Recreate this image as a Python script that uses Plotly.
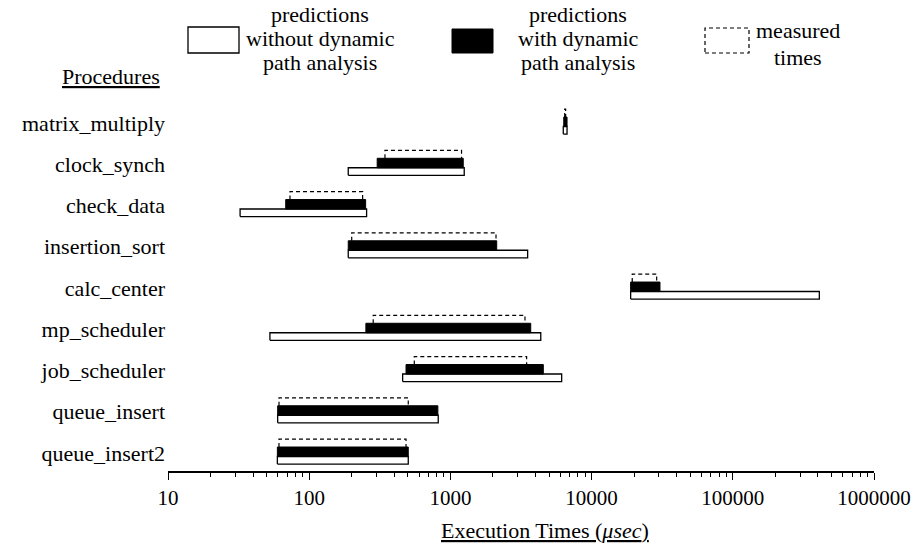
import plotly.graph_objects as go

# ---------------- data ----------------
procedures = ["matrix_multiply", "clock_synch", "check_data", "insertion_sort",
              "calc_center", "mp_scheduler", "job_scheduler", "queue_insert",
              "queue_insert2"]
# predictions without dynamic path analysis (usec)
without_lo = [6300, 189, 32.4, 189, 18900, 52.7, 459, 59.8, 59.5]
without_hi = [6700, 1253, 255, 3524, 410000, 4365, 6138, 820, 503]
# predictions with dynamic path analysis (usec)
with_lo = [6350, 303, 68.2, 189, 18900, 252, 485, 59.8, 59.5]
with_hi = [6700, 1233, 251, 2128, 30500, 3706, 4550, 815, 503]
# measured times (usec)
meas_lo = [6450, 344, 73.1, 200, 19400, 284, 555, 61.1, 61.1]
meas_hi = [6550, 1199, 239, 2104, 28900, 3375, 3467, 503, 485]

tick_vals = [10, 100, 1000, 10000, 100000, 1000000]
tick_text = ["10", "100", "1000", "10000", "100000", "1000000"]

# ---------------- geometry / style ----------------
W, H = 922, 549
L, R, T, B = 168, 48, 100, 78
FONT = "Liberation Serif"
n = len(procedures)
rows = [n - 1 - i for i in range(n)]

WHITE_BOT, WHITE_TOP = -0.267, -0.085
BLACK_BOT, BLACK_TOP = -0.085, 0.145
DASH_BOT, DASH_TOP = 0.145, 0.339


def rects(lo, hi, b, t):
    xs, ys = [], []
    for x0, x1, y in zip(lo, hi, rows):
        xs += [x0, x1, x1, x0, x0, None]
        ys += [y + b, y + b, y + t, y + t, y + b, None]
    return xs, ys


def open_boxes(lo, hi, b, t):
    xs, ys = [], []
    for x0, x1, y in zip(lo, hi, rows):
        xs += [x0, x0, x1, x1, None]
        ys += [y + b, y + t, y + t, y + b, None]
    return xs, ys


fig = go.Figure()

wx, wy = rects(without_lo, without_hi, WHITE_BOT, WHITE_TOP)
fig.add_trace(go.Scatter(x=wx, y=wy, mode="lines", fill="toself",
                         fillcolor="white", line=dict(color="black", width=1.3),
                         hoverinfo="skip"))
bx, by = rects(with_lo, with_hi, BLACK_BOT, BLACK_TOP)
fig.add_trace(go.Scatter(x=bx, y=by, mode="lines", fill="toself",
                         fillcolor="black", line=dict(color="black", width=1),
                         hoverinfo="skip"))
mx, my = open_boxes(meas_lo, meas_hi, DASH_BOT, DASH_TOP)
fig.add_trace(go.Scatter(x=mx, y=my, mode="lines",
                         line=dict(color="black", width=1.2, dash="4px,3px"),
                         hoverinfo="skip"))


def pxx(p):
    return (p - L) / (W - L - R)


def pxy(p):
    return (H - B - p) / (H - T - B)


shapes = [
    dict(type="rect", xref="paper", yref="paper", x0=pxx(188), x1=pxx(239),
         y0=pxy(53), y1=pxy(27), line=dict(color="black", width=1.3),
         fillcolor="white"),
    dict(type="rect", xref="paper", yref="paper", x0=pxx(452), x1=pxx(493),
         y0=pxy(53), y1=pxy(29), line=dict(color="black", width=1),
         fillcolor="black"),
    dict(type="rect", xref="paper", yref="paper", x0=pxx(705), x1=pxx(749),
         y0=pxy(53), y1=pxy(28), line=dict(color="black", width=1.2, dash="4px,3px"),
         fillcolor="rgba(0,0,0,0)"),
]

ann = []


def text(s, x, y, size=22, xanchor="center"):
    ann.append(dict(text=s, x=pxx(x), y=pxy(y), xref="paper", yref="paper",
                    showarrow=False, xanchor=xanchor, yanchor="middle",
                    font=dict(family=FONT, size=size, color="black")))


text("predictions", 320, 15)
text("without dynamic", 320, 39)
text("path analysis", 320, 63)
text("predictions", 578, 15)
text("with dynamic", 578, 39)
text("path analysis", 578, 63)
text("measured", 798, 31)
text("times", 798, 57)
text("<u>Procedures</u>", 162, 76, xanchor="right")
text("<u>Execution Times (<i>μsec</i>)</u>", 545, 530)

fig.update_layout(
    width=W, height=H,
    margin=dict(l=L, r=R, t=T, b=B, autoexpand=False),
    paper_bgcolor="white", plot_bgcolor="white",
    showlegend=False,
    shapes=shapes, annotations=ann,
    font=dict(family=FONT, color="black"),
    xaxis=dict(type="log", range=[1, 6], tickvals=tick_vals, ticktext=tick_text,
               ticks="outside", ticklen=7, tickwidth=1.2, tickcolor="black",
               showline=True, linecolor="black", linewidth=1.5,
               showgrid=False, zeroline=False, automargin=False,
               tickfont=dict(family=FONT, size=21, color="black"),
               minor=dict(tickvals=[m * 10 ** k for k in range(1, 6) for m in range(2, 10)],
                          ticks="outside", ticklen=4, tickwidth=1, tickcolor="black",
                          showgrid=False)),
    yaxis=dict(range=[-0.436, n - 1 + 0.558], tickvals=rows, ticktext=procedures,
               ticks="", showline=False, showgrid=False, zeroline=False,
               ticklabelstandoff=2, automargin=False,
               tickfont=dict(family=FONT, size=22, color="black")),
)

fig.write_html("out.html", config={"displayModeBar": False},
               post_script="document.body.style.margin='0';document.body.style.overflow='hidden';")
